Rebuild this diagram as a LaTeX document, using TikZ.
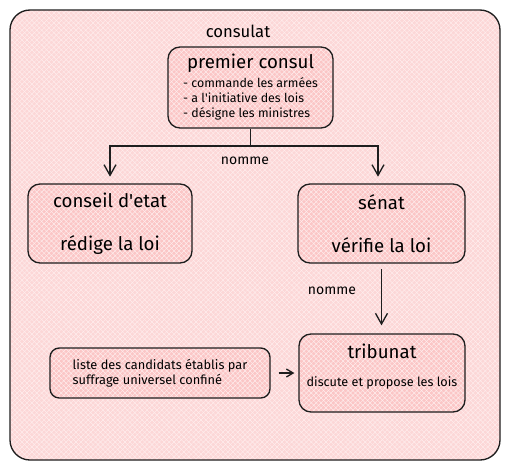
\documentclass[tikz,border=0pt]{standalone}
\usepackage{fontspec}
\setmainfont{Fira Sans}
\usetikzlibrary{arrows.meta,positioning,patterns.meta}
\definecolor{consulink}{HTML}{1E1E1E}
\definecolor{consulpink}{HTML}{FCD7D7}
\definecolor{consulbox}{HTML}{FBC6C6}
\definecolor{consulhatch}{HTML}{FFEEEE}
\newcommand{\cpx}{0.75pt}
\newcommand{\titrefont}{\fontsize{14}{16}\selectfont}
\newcommand{\apos}{\textquotesingle}
\tikzset{
  hatched/.style={preaction={fill=#1},
    preaction={pattern={Lines[angle=45,distance=2.6pt,line width=0.35pt]}, pattern color=consulhatch},
    preaction={pattern={Lines[angle=-45,distance=2.6pt,line width=0.35pt]}, pattern color=consulhatch}},
  frame/.style={draw=consulink, line width=1pt, rounded corners=15pt, hatched=consulpink},
  box/.style={draw=consulink, line width=1pt, rounded corners=9pt, hatched=consulbox,
    align=center, inner sep=0pt},
  titre/.style={font=\titrefont},
  link/.style={draw=consulink, line width=1pt},
  arrow/.style={link, -{Straight Barb[length=8pt,width=9pt]}},
  lbl/.style={font=\fontsize{10.5}{12}\selectfont, inner sep=1pt}
}
\begin{document}
\begin{tikzpicture}[x=\cpx, y=-\cpx]
\useasboundingbox (0,0) rectangle (508,469);
% cadre
\draw[frame] (10,10) rectangle (500,460);
\node[font=\fontsize{12.5}{14}\selectfont] (consulat) at (238,31) {consulat};

% organes
\node[box, minimum width=165*\cpx, minimum height=81*\cpx] (consul) at (250.5,87.5)
  {{\titrefont premier consul}\\[3pt]
   {\fontsize{9.3}{11}\selectfont\begin{tabular}{@{}l@{}}
    - commande les armées\\ - a l\apos initiative des lois\\ - désigne les ministres
   \end{tabular}}};
\node[box, titre, minimum width=164*\cpx, minimum height=79*\cpx] (conseil) at (110,223.5)
  {conseil d\apos etat\\[16pt]rédige la loi};
\node[box, titre, minimum width=167*\cpx, minimum height=79*\cpx] (senat) at (381.5,223.5)
  {sénat\\[16pt]vérifie la loi};
\node[box, minimum width=166*\cpx, minimum height=78*\cpx] (tribunat) at (382,373)
  {{\titrefont tribunat}\\[9pt]
   {\fontsize{9.5}{11}\selectfont discute et propose les lois\rule[-12pt]{0pt}{12pt}}};
\node[box, align=left, rounded corners=7pt, minimum width=220*\cpx, minimum height=50*\cpx,
  font=\fontsize{9.6}{11.5}\selectfont] (liste) at (160,373)
  {liste des candidats établis par\\suffrage universel confiné};

% liaisons
\coordinate (fourche) at (250.5,146);
\draw[link] (consul.south) -- (fourche);
\draw[arrow, shorten >=5pt] (fourche) -| (conseil.north);
\draw[arrow, shorten >=5pt] (fourche) -| ([xshift=-3.5*\cpx]senat.north);
\node[lbl] (nomme1) at (245,161) {nomme};
\draw[arrow, shorten <=4pt, shorten >=6pt] (senat.south) -- (senat.south |- tribunat.north);
\node[lbl] (nomme2) at (332,291) {nomme};
\draw[link, -{Straight Barb[length=5pt,width=6pt]}, shorten <=6pt, shorten >=3pt]
  (liste.east |- tribunat.west) -- (tribunat.west);
\end{tikzpicture}
\end{document}
